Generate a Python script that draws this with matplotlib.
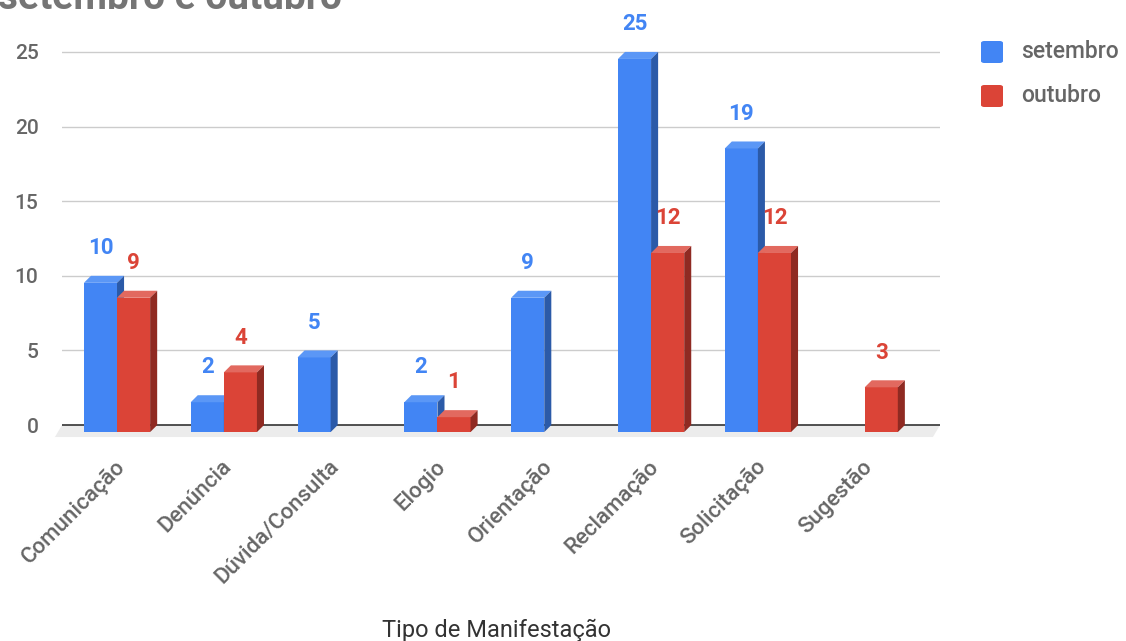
import matplotlib
matplotlib.use("Agg")
import matplotlib.pyplot as plt
from matplotlib.patches import Polygon, FancyBboxPatch
import numpy as np

categories = ["Comunicação", "Denúncia", "Dúvida/Consulta", "Elogio",
              "Orientação", "Reclamação", "Solicitação", "Sugestão"]
setembro = [10, 2, 5, 2, 9, 25, 19, 0]
outubro = [9, 4, 0, 1, 0, 12, 12, 3]
series_names = ["setembro", "outubro"]
yticks = [0, 5, 10, 15, 20, 25]
title = "setembro e outubro"
xlabel = "Tipo de Manifestação"

plt.rcParams['font.family'] = ['Roboto', 'DejaVu Sans']

W, H = 1126, 641
fig = plt.figure(figsize=(W / 100, H / 100), dpi=100)
ax_left, ax_right = 62, 940
ax_top, ax_bot = 37, 440
ax = fig.add_axes([ax_left / W, 1 - ax_bot / H, (ax_right - ax_left) / W, (ax_bot - ax_top) / H])

xlim = (-0.515, 7.705)
ylim = (-1.0, 26.0)
ax.set_xlim(*xlim)
ax.set_ylim(*ylim)

colors = {
    "setembro": ("#4285f4", "#5b97f6", "#2b5aa8"),
    "outubro": ("#db4437", "#e2695f", "#8f2a22"),
}
label_colors = {"setembro": "#4285f4", "outubro": "#db4437"}
text_gray = "#666666"

w = 0.31
dx = 0.066
dy = 0.47
x = np.arange(len(categories))

# floor
floor = Polygon([(xlim[0], 0), (xlim[1], 0), (xlim[1] - dx, -0.8), (xlim[0] - dx, -0.8)],
                closed=True, facecolor="#ececec", edgecolor="none", zorder=0.5, clip_on=False)
ax.add_patch(floor)

# grid lines
for t in yticks:
    ax.axhline(t, color="#333333" if t == 0 else "#cccccc", lw=1.2 if t == 0 else 1.0, zorder=1)

for si, (name, vals) in enumerate(zip(series_names, [setembro, outubro])):
    front, topc, sidec = colors[name]
    xc = x + (si - 0.5) * w
    vals = np.array(vals, dtype=float)
    mask = vals > 0
    ax.bar(xc[mask], vals[mask], bottom=-dy, width=w, color=front, zorder=3, linewidth=0)
    for xi, v in zip(xc[mask], vals[mask]):
        x0, x1 = xi - w / 2, xi + w / 2
        top = Polygon([(x0, v - dy), (x1, v - dy), (x1 + dx, v), (x0 + dx, v)],
                      closed=True, facecolor=topc, edgecolor="none", zorder=3)
        side = Polygon([(x1, -dy), (x1 + dx, 0), (x1 + dx, v), (x1, v - dy)],
                       closed=True, facecolor=sidec, edgecolor="none", zorder=3)
        ax.add_patch(top)
        ax.add_patch(side)
        ax.annotate(f"{int(v)}", (xi, v), xytext=(0, 20), textcoords="offset points",
                    ha="center", va="center", fontsize=16, fontweight="bold",
                    color=label_colors[name], zorder=5)

for s in ax.spines.values():
    s.set_visible(False)

ax.set_yticks(yticks)
ax.set_yticklabels([str(t) for t in yticks], fontsize=15, fontweight="medium", color=text_gray)
ax.tick_params(axis="y", length=0, pad=17)
ax.set_xticks(x + 0.045)
ax.set_xticklabels(categories, rotation=45, ha="right", va="center",
                   rotation_mode="anchor", fontsize=16, fontweight="medium", color=text_gray)
ax.tick_params(axis="x", length=0, pad=17)

fig.text(496 / W, 1 - 630 / H, xlabel, ha="center", va="center", fontsize=17, color="#333333")
fig.text(-2 / W, 1 - 9 / H, title, ha="left", va="baseline", fontsize=28,
         fontweight="bold", color="#757575")

# legend
for i, name in enumerate(series_names):
    yc = 52 + i * 44
    box = FancyBboxPatch((981 / W, 1 - (yc + 11) / H), 22 / W, 22 / H,
                         boxstyle="round,pad=0,rounding_size=0.003",
                         transform=fig.transFigure, facecolor=colors[name][0],
                         edgecolor="none")
    fig.add_artist(box)
    fig.text(1021 / W, 1 - yc / H, name, ha="left", va="center", fontsize=16.5,
             fontweight="medium", color=text_gray)

fig.savefig("out.png", dpi=100)
